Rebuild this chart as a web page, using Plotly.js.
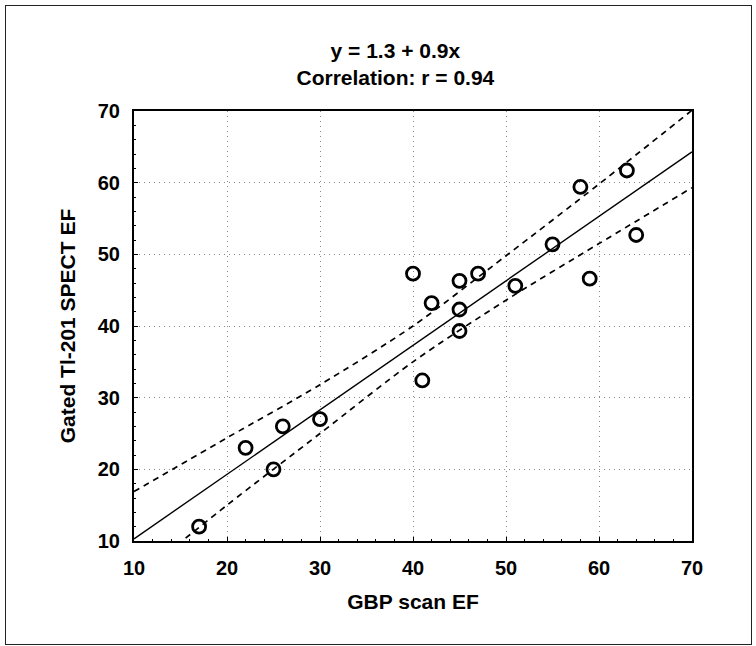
<!DOCTYPE html>
<html>
<head>
<meta charset="utf-8">
<script src="https://cdn.plot.ly/plotly-3.0.1.min.js"></script>
<style>
  html, body { margin: 0; padding: 0; background: #fff; }
  #wrap { position: relative; width: 756px; height: 646px; }
  #chart { position: absolute; left: 0; top: 0; width: 756px; height: 646px; }
  #frame { position: absolute; left: 5px; top: 5px; width: 745px; height: 638px; border: 1.5px solid #222; pointer-events: none; }
</style>
</head>
<body>
<div id="wrap">
  <div id="chart"></div>
  <div id="frame"></div>
</div>
<script>
// Observed data points (GBP scan EF vs Gated Tl-201 SPECT EF)
const gbpEF   = [17, 22, 25, 26, 30, 40, 41, 42, 45, 45, 45, 47, 51, 55, 58, 59, 63, 64];
const spectEF = [12, 23, 20, 26, 27, 47.3, 32.4, 43.2, 46.3, 42.3, 39.3, 47.3, 45.6, 51.4, 59.4, 46.6, 61.7, 52.7];

// Regression line endpoints (y = 1.3 + 0.9x)
const fitX = [10, 70];
const fitY = [10.3, 64.3];

// Confidence band readings
const bandX     = [10, 20, 30, 40, 50, 60, 70];
const bandUpper = [16.9, 24.4, 31.8, 40.0, 49.8, 59.8, 70.1];
const bandLower = [4.6, 15.0, 25.0, 35.0, 43.6, 51.5, 59.3];

const titleLines = ["y = 1.3 + 0.9x", "Correlation: r = 0.94"];
const xTitle = "GBP scan EF";
const yTitle = "Gated Tl-201 SPECT EF";
const tickVals = [10, 20, 30, 40, 50, 60, 70];

const font = { family: "Liberation Sans, Arial, sans-serif", color: "#000", weight: "bold" };

const traces = [
  { x: bandX, y: bandUpper, mode: "lines", line: { color: "#000", width: 1.7, dash: "6px,5px", shape: "spline", smoothing: 0.8 }, hoverinfo: "skip" },
  { x: bandX, y: bandLower, mode: "lines", line: { color: "#000", width: 1.7, dash: "6px,5px", shape: "spline", smoothing: 0.8 }, hoverinfo: "skip" },
  { x: fitX, y: fitY, mode: "lines", line: { color: "#000", width: 1.4 } },
  { x: gbpEF, y: spectEF, mode: "markers",
    marker: { symbol: "circle-open", size: 13, color: "#000", line: { width: 2.8, color: "#000" } } }
];

const axisCommon = {
  range: [10, 70],
  tickvals: tickVals,
  showline: true, linewidth: 2, linecolor: "#000", mirror: true,
  ticks: "inside", ticklen: 4, tickwidth: 1, tickcolor: "#000",
  showgrid: true, gridcolor: "#8a8a8a", gridwidth: 1, griddash: "1px,4px",
  zeroline: false,
  tickfont: Object.assign({ size: 20 }, font),
  ticklabelstandoff: 8,
  minor: { dtick: 2, ticks: "inside", ticklen: 2, tickcolor: "#000", showgrid: false }
};

const layout = {
  width: 756, height: 646,
  margin: { l: 134, r: 64, t: 111, b: 105 },
  paper_bgcolor: "#fff", plot_bgcolor: "#fff",
  showlegend: false,
  title: {
    text: titleLines.join("<br>"),
    font: Object.assign({ size: 21 }, font),
    x: 0.523, xanchor: "center", xref: "container",
    y: 0.91, yanchor: "top", yref: "container"
  },
  xaxis: Object.assign({}, axisCommon, {
    title: { text: xTitle, font: Object.assign({ size: 21 }, font), standoff: 16 }
  }),
  yaxis: Object.assign({}, axisCommon, {
    title: { text: yTitle, font: Object.assign({ size: 21 }, font), standoff: 16 }
  })
};

Plotly.newPlot("chart", traces, layout, { displayModeBar: false, staticPlot: true });
</script>
</body>
</html>
